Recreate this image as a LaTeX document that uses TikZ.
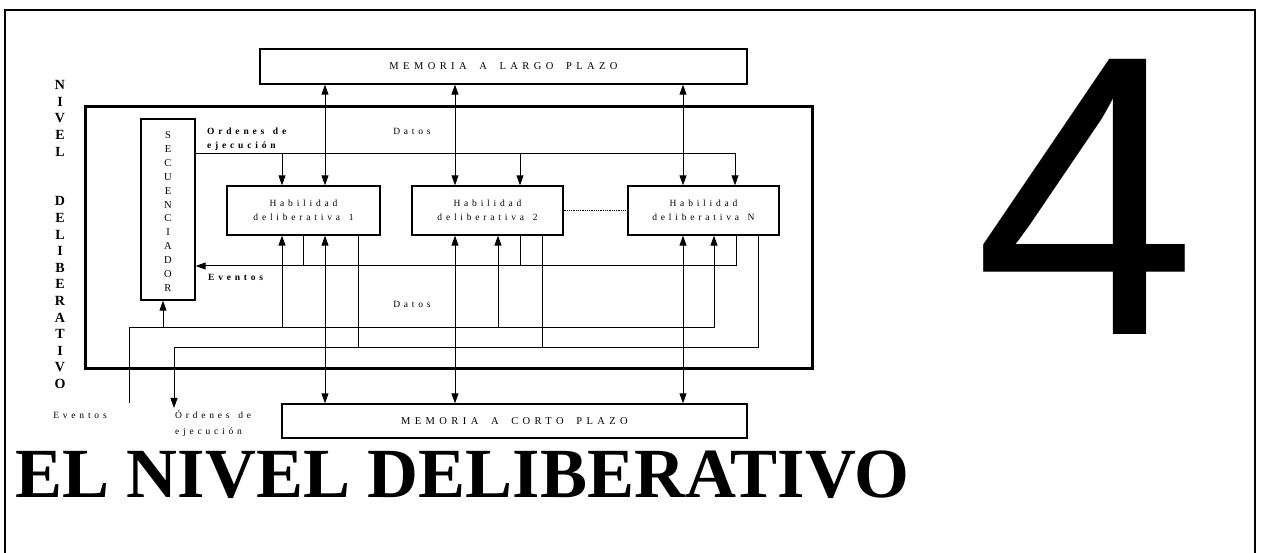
\documentclass[tikz,border=0pt]{standalone}
\usepackage{fontspec}
\setmainfont{Liberation Serif}
\newfontfamily\trackfont{Liberation Serif}[LetterSpace=40,WordSpace=1.4]
\newfontfamily\memfont{Liberation Serif}[LetterSpace=42,WordSpace=1.8]
\newfontfamily\digitfont{Liberation Sans}
\usetikzlibrary{arrows.meta}
\begin{document}
\begin{tikzpicture}[x=1pt,y=-1pt,
  box/.style={draw,line width=1.3pt,inner sep=0pt,align=center},
  memtext/.style={font=\memfont\fontsize{10.5}{12}\selectfont},
  skilltext/.style={font=\trackfont\fontsize{9.5}{14}\selectfont},
  lbl/.style={inner sep=0pt,align=left,font=\trackfont\fontsize{9.5}{14}\selectfont},
  lblbold/.style={lbl,font=\trackfont\bfseries\fontsize{9.5}{14}\selectfont},
  wire/.style={line width=1pt},
  arr/.style={wire,-{Triangle[length=10pt,width=7pt]}},
  arrboth/.style={wire,{Triangle[length=10pt,width=7pt]}-{Triangle[length=10pt,width=7pt]}}]
\useasboundingbox (0,0) rectangle (1262,553);

% page border
\draw[line width=1.4pt] (5,553) -- (5,10) -- (1255,10) -- (1255,553);

% boxes
\node[draw,line width=3pt,minimum width=727pt,minimum height=262pt,inner sep=0pt] (frame) at (448.5,238) {};
\node[box,memtext,minimum width=487pt,minimum height=35pt] (ltm) at (503.5,66.5) {MEMORIA A LARGO PLAZO};
\node[box,memtext,minimum width=465pt,minimum height=34pt] (stm) at (514.5,421) {MEMORIA A CORTO PLAZO};
\node[box,minimum width=54pt,minimum height=181pt] (seq) at (168,209.5) {};
\node[inner sep=0pt,align=center,font=\fontsize{10.5}{13.9}\selectfont] (seqtxt) at (168,211.5)
  {S\\E\\C\\U\\E\\N\\C\\I\\A\\D\\O\\R};
\node[box,skilltext,minimum width=153pt,minimum height=49pt] (h1) at (303.5,210.5) {Habilidad\\deliberativa 1};
\node[box,skilltext,minimum width=151pt,minimum height=49pt] (h2) at (487.5,210.5) {Habilidad\\deliberativa 2};
\node[box,skilltext,minimum width=151pt,minimum height=49pt] (hn) at (703.5,210.5) {Habilidad\\deliberativa N};

% side title
\node[inner sep=0pt,align=center,font=\bfseries\fontsize{14}{16.6}\selectfont] (lvl) at (60,234.5)
  {N\\I\\V\\E\\L\\[33.2pt]D\\E\\L\\I\\B\\E\\R\\A\\T\\I\\V\\O};

% labels
\node[lblbold,anchor=west] (ordtop) at (207,139) {Ordenes de\\ejecución};
\node[lbl] (datostop) at (412,131) {Datos};
\node[lblbold,anchor=west] (evmid) at (208,277) {Eventos};
\node[lbl] (datosmid) at (412,304) {Datos};
\node[lbl] (evbot) at (80,415) {Eventos};
\node[lbl,anchor=west,font=\trackfont\fontsize{9.5}{16}\selectfont] (ordbot) at (175,423) {Órdenes de\\ejecución};

% chapter number and heading
\node[inner sep=0pt,anchor=base,font=\digitfont\fontsize{400}{400}\selectfont] (four) at (1086,335) {4};
\node[inner sep=0pt,anchor=base west,font=\bfseries\fontsize{70.5}{72}\selectfont] (title) at (15,497) {EL NIVEL DELIBERATIVO};

% column positions
\coordinate (xa1) at (282,0);  \coordinate (xd1) at (325,0);
\coordinate (xe1) at (303,0);  \coordinate (xo1) at (358,0);
\coordinate (xd2) at (455,0);  \coordinate (xt2) at (520,0);
\coordinate (xa2) at (498,0);  \coordinate (xo2) at (542,0);
\coordinate (xdn) at (683,0);  \coordinate (xtn) at (735,0);
\coordinate (xan) at (714,0);  \coordinate (xen) at (736,0);
\coordinate (xon) at (758,0);  \coordinate (xsq) at (163,0);
% bus levels
\coordinate (busO) at (0,154);
\coordinate (busE) at (0,266);
\coordinate (busD) at (0,328);
\coordinate (busX) at (0,348);
% free ends
\coordinate (evin) at (129,403);
\coordinate (ordout) at (174,408);

% long-term memory links
\draw[arrboth] (ltm.south -| xd1) -- (h1.north -| xd1);
\draw[arrboth] (ltm.south -| xd2) -- (h2.north -| xd2);
\draw[arrboth] (ltm.south -| xdn) -- (hn.north -| xdn);
% short-term memory links
\draw[arrboth] (h1.south -| xd1) -- (stm.north -| xd1);
\draw[arrboth] (h2.south -| xd2) -- (stm.north -| xd2);
\draw[arrboth] (hn.south -| xdn) -- (stm.north -| xdn);

% execution orders from the sequencer
\draw[arr] (seq.east |- busO) -| (hn.north -| xtn);
\draw[arr] (busO -| xa1) -- (h1.north -| xa1);
\draw[arr] (busO -| xt2) -- (h2.north -| xt2);

% events back to the sequencer
\draw[arr] (hn.south -| xen) |- (seq.east |- busE);
\draw[wire] (h1.south -| xe1) -- (busE -| xe1);
\draw[wire] (h2.south -| xt2) -- (busE -| xt2);

% incoming events / data
\draw[arr] (evin) |- (busD -| xan) -- (hn.south -| xan);
\draw[arr] (busD -| xsq) -- (seq.south -| xsq);
\draw[arr] (busD -| xa1) -- (h1.south -| xa1);
\draw[arr] (busD -| xa2) -- (h2.south -| xa2);

% outgoing execution orders
\draw[arr] (hn.south -| xon) |- (busX -| ordout) -- (ordout);
\draw[wire] (h1.south -| xo1) -- (busX -| xo1);
\draw[wire] (h2.south -| xo2) -- (busX -| xo2);

% link between skills
\draw[densely dotted,line width=0.8pt] (h2.east) -- (hn.west);
\end{tikzpicture}
\end{document}
